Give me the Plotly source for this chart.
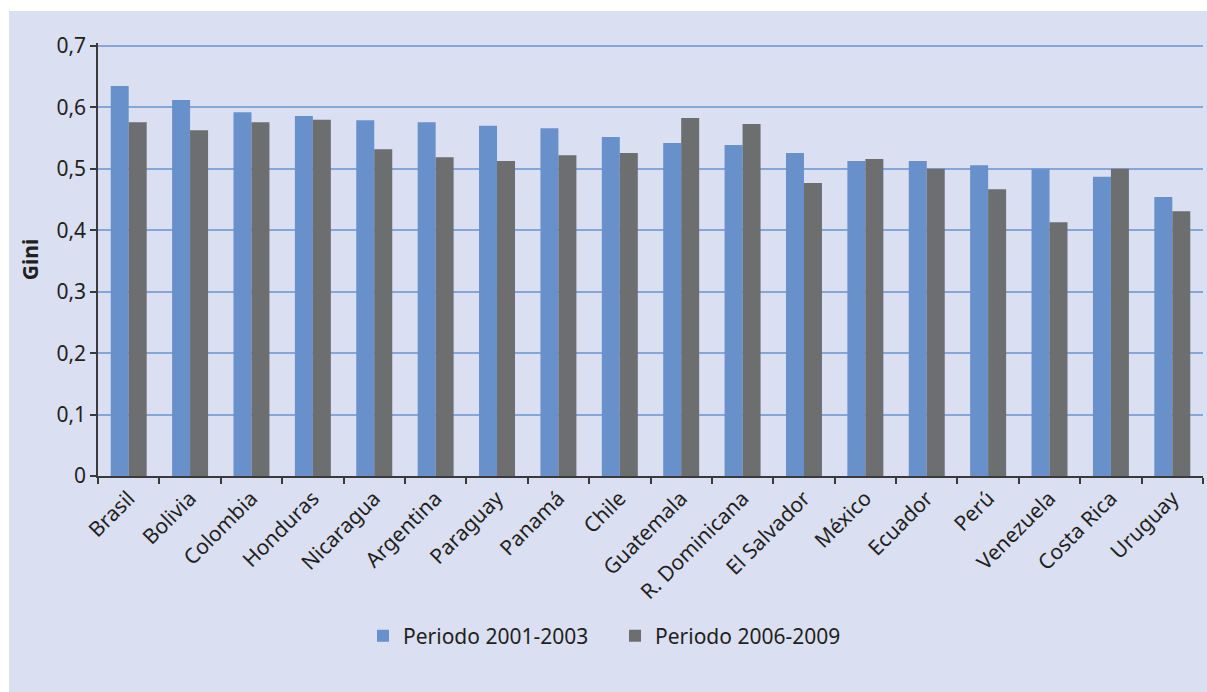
import plotly.graph_objects as go

countries = ["Brasil", "Bolivia", "Colombia", "Honduras", "Nicaragua", "Argentina",
             "Paraguay", "Panamá", "Chile", "Guatemala", "R. Dominicana", "El Salvador",
             "México", "Ecuador", "Perú", "Venezuela", "Costa Rica", "Uruguay"]
p2001 = [0.635, 0.612, 0.592, 0.586, 0.579, 0.576, 0.570, 0.566, 0.552, 0.542,
         0.539, 0.526, 0.513, 0.513, 0.506, 0.500, 0.487, 0.454]
p2006 = [0.576, 0.563, 0.576, 0.580, 0.532, 0.519, 0.513, 0.522, 0.526, 0.583,
         0.573, 0.477, 0.516, 0.500, 0.467, 0.413, 0.500, 0.431]
series_names = ["Periodo 2001-2003", "Periodo 2006-2009"]
ytick_vals = [0, 0.1, 0.2, 0.3, 0.4, 0.5, 0.6, 0.7]
ytick_text = ["0", "0,1", "0,2", "0,3", "0,4", "0,5", "0,6", "0,7"]

W, H = 1207, 692
ml, mr, mt, mb = 98, 4, 43, 216
pw, ph = W - ml - mr, H - mt - mb

FONT = "Noto Sans"
bg = "#dae0f2"

fig = go.Figure()
fig.add_trace(go.Bar(x=countries, y=p2001, name=series_names[0], marker_color="#6890cb",
                     marker_line_width=0))
fig.add_trace(go.Bar(x=countries, y=p2006, name=series_names[1], marker_color="#6d6e70",
                     marker_line_width=0))

# panel background
fig.add_shape(type="rect", xref="paper", yref="paper", layer="below",
              x0=(9 - ml) / pw, x1=(W - ml) / pw + 0.01,
              y0=-mb / ph - 0.01, y1=(H - 11 - mb) / ph,
              fillcolor=bg, line_width=0)

fig.update_layout(
    width=W, height=H,
    margin=dict(l=ml, r=mr, t=mt, b=mb),
    paper_bgcolor="white", plot_bgcolor=bg,
    barmode="group", bargap=0.414, bargroupgap=0,
    font=dict(family=FONT, size=20, color="#231f20"),
    showlegend=True,
    legend=dict(orientation="h", x=(363 - ml) / pw, xanchor="left",
                y=(H - 636 - mb) / ph, yanchor="middle", font=dict(size=21),
                itemwidth=30, entrywidth=207, entrywidthmode="pixels",
                bgcolor="rgba(0,0,0,0)", traceorder="normal"),
    xaxis=dict(tickangle=-45, tickson="boundaries", ticks="outside", ticklen=6,
               tickcolor="#3a3a3a", tickwidth=1.5, showline=True, linecolor="#3a3a3a",
               linewidth=1.5, showgrid=False, tickfont=dict(size=21),
               range=[-0.5, len(countries) - 0.5]),
    yaxis=dict(range=[0, 0.7049], tickvals=ytick_vals, ticktext=ytick_text,
               ticks="outside", ticklen=6, tickcolor="#3a3a3a", tickwidth=1.5,
               showline=True, linecolor="#3a3a3a", linewidth=1.5,
               gridcolor="#86a6d9", gridwidth=2, zeroline=False,
               tickfont=dict(size=21),
               title=dict(text="<b>Gini</b>", font=dict(size=21), standoff=12)),
)

fig.write_html("out.html", config={"displayModeBar": False},
               post_script="document.body.style.margin='0';")
